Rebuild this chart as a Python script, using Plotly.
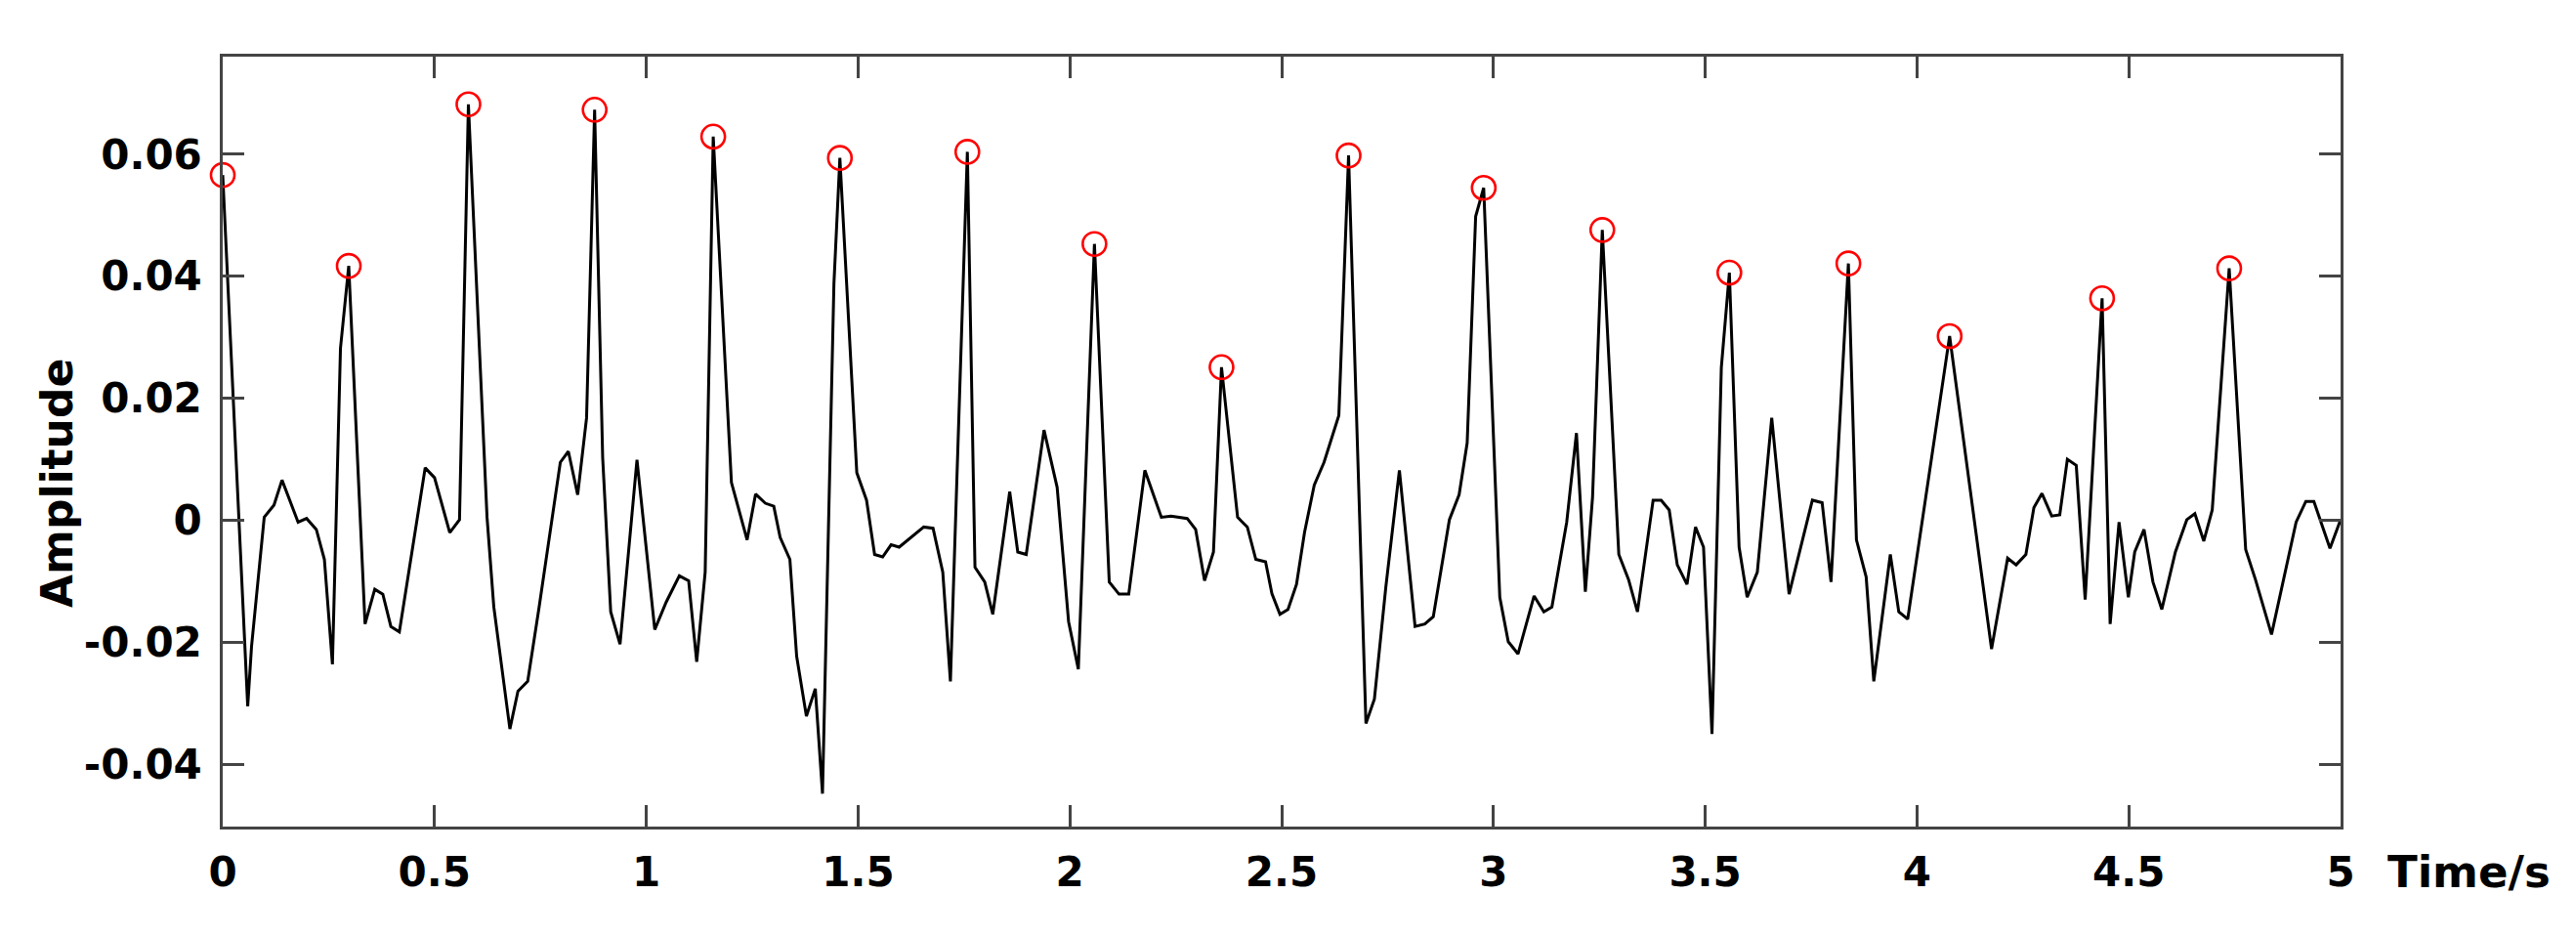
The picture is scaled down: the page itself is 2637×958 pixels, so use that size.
import plotly.graph_objects as go

time_s = [0.000, 0.059, 0.068, 0.098, 0.121, 0.140, 0.178, 0.198, 0.221, 0.240, 0.259, 0.278, 0.2975,
          0.336, 0.359, 0.378, 0.397, 0.417, 0.478, 0.500, 0.536, 0.559, 0.580,
          0.624, 0.640, 0.678, 0.697, 0.720, 0.747, 0.770, 0.797, 0.816, 0.838, 0.859, 0.878,
          0.897, 0.916, 0.938, 0.978, 1.020, 1.047, 1.078, 1.100, 1.119, 1.139, 1.158,
          1.201, 1.238, 1.258, 1.281, 1.301, 1.316, 1.339, 1.355, 1.378, 1.399, 1.416, 1.443, 1.457,
          1.497, 1.520, 1.539, 1.558, 1.578, 1.597, 1.655, 1.677, 1.700, 1.718, 1.758,
          1.776, 1.799, 1.818, 1.858, 1.877, 1.897, 1.939, 1.970, 1.997, 2.020, 2.058,
          2.093, 2.116, 2.139, 2.177, 2.216, 2.239, 2.277, 2.297, 2.318, 2.339, 2.358,
          2.396, 2.419, 2.439, 2.462, 2.477, 2.496, 2.515, 2.535, 2.554, 2.577, 2.600, 2.635, 2.658,
          2.699, 2.719, 2.746, 2.778, 2.815, 2.838, 2.858, 2.896, 2.919, 2.938, 2.958, 2.977,
          3.015, 3.035, 3.058, 3.096, 3.119, 3.138, 3.173, 3.196, 3.217, 3.234, 3.257,
          3.296, 3.319, 3.340, 3.377, 3.396, 3.415, 3.434, 3.457, 3.477, 3.496, 3.516, 3.538, 3.557,
          3.580, 3.599, 3.623, 3.657, 3.698, 3.753, 3.776, 3.797, 3.838,
          3.857, 3.880, 3.898, 3.937, 3.957, 3.978, 4.077,
          4.176, 4.214, 4.234, 4.257, 4.276, 4.295, 4.318, 4.337, 4.355, 4.376, 4.397, 4.437,
          4.456, 4.477, 4.499, 4.514, 4.536, 4.557, 4.578, 4.610, 4.637, 4.656, 4.677, 4.697, 4.737,
          4.776, 4.799, 4.837, 4.895, 4.918, 4.937, 4.975, 5.000]

amplitude = [0.0566, -0.0305, -0.0207, 0.0005, 0.0025, 0.0066, -0.0003, 0.0003, -0.0015, -0.0064, -0.0236, 0.0282, 0.0417,
             -0.0170, -0.0113, -0.0121, -0.0174, -0.0183, 0.0086, 0.0070, -0.0020, 0.0001, 0.0682,
             0.0005, -0.0142, -0.0342, -0.0280, -0.0264, -0.0142, -0.0036, 0.0095, 0.0113, 0.0042, 0.0168, 0.0673,
             0.0103, -0.0150, -0.0203, 0.0099, -0.0179, -0.0134, -0.0091, -0.0099, -0.0232, -0.0085, 0.0629,
             0.0062, -0.0032, 0.0043, 0.0028, 0.0023, -0.0028, -0.0064, -0.0223, -0.0321, -0.0276, -0.0448, 0.0388, 0.0594,
             0.0078, 0.0033, -0.0056, -0.0060, -0.0040, -0.0044, -0.0011, -0.0013, -0.0085, -0.0264, 0.0604,
             -0.0077, -0.0101, -0.0154, 0.0047, -0.0052, -0.0056, 0.0148, 0.0054, -0.0166, -0.0244, 0.0453,
             -0.0101, -0.0121, -0.0121, 0.0082, 0.0005, 0.0007, 0.0003, -0.0015, -0.0099, -0.0052, 0.0251,
             0.0005, -0.0011, -0.0064, -0.0068, -0.0120, -0.0154, -0.0146, -0.0105, -0.0020, 0.0058, 0.0095, 0.0172, 0.0598,
             -0.0333, -0.0293, -0.0109, 0.0082, -0.0174, -0.0170, -0.0158, 0.0001, 0.0042, 0.0127, 0.0498, 0.0545,
             -0.0126, -0.0199, -0.0219, -0.0124, -0.0150, -0.0142, -0.0003, 0.0143, -0.0117, 0.0038, 0.0476,
             -0.0056, -0.0097, -0.0150, 0.0033, 0.0033, 0.0017, -0.0073, -0.0105, -0.0011, -0.0044, -0.0350, 0.0250, 0.0406,
             -0.0044, -0.0126, -0.0085, 0.0168, -0.0121, 0.0033, 0.0029, -0.0101, 0.0421,
             -0.0032, -0.0093, -0.0264, -0.0056, -0.0150, -0.0162, 0.0302,
             -0.0211, -0.0062, -0.0073, -0.0056, 0.0021, 0.0044, 0.0007, 0.0009, 0.0100, 0.0090, -0.0130, 0.0364,
             -0.0170, -0.0003, -0.0126, -0.0052, -0.0015, -0.0101, -0.0146, -0.0052, 0.0001, 0.0011, -0.0034, 0.0017, 0.0413,
             -0.0048, -0.0097, -0.0187, -0.0003, 0.0031, 0.0031, -0.0046, 0.0001]

peak_t = [0.000, 0.2975, 0.580, 0.878, 1.158, 1.457, 1.758, 2.058, 2.358, 2.658,
          2.977, 3.257, 3.557, 3.838, 4.077, 4.437, 4.737]
peak_v = [0.0566, 0.0417, 0.0682, 0.0673, 0.0629, 0.0594, 0.0604, 0.0453, 0.0251, 0.0598,
          0.0545, 0.0476, 0.0406, 0.0421, 0.0302, 0.0364, 0.0413]

x_tickvals = [0, 0.5, 1, 1.5, 2, 2.5, 3, 3.5, 4, 4.5, 5]
x_ticktext = ["0", "0.5", "1", "1.5", "2", "2.5", "3", "3.5", "4", "4.5", "5"]
y_tickvals = [-0.04, -0.02, 0, 0.02, 0.04, 0.06]
y_ticktext = ["-0.04", "-0.02", "0", "0.02", "0.04", "0.06"]

FONT = "DejaVu Sans"
fig = go.Figure()
fig.add_trace(go.Scatter(x=time_s, y=amplitude, mode="lines",
                         line=dict(color="black", width=3), showlegend=False))
fig.add_trace(go.Scatter(x=peak_t, y=peak_v, mode="markers",
                         marker=dict(symbol="circle-open", size=24, color="red",
                                     line=dict(color="red", width=2.6)),
                         showlegend=False, cliponaxis=False))

axis_common = dict(showline=True, mirror="ticks", linecolor="#444444", linewidth=2.5,
                   ticks="inside", ticklen=22, tickwidth=2.5, tickcolor="#444444",
                   showgrid=False, zeroline=False,
                   tickfont=dict(family=FONT, size=42, color="black", weight="bold"))

fig.update_xaxes(range=[0, 5], tickvals=x_tickvals, ticktext=x_ticktext,
                 ticklabelstandoff=8, **axis_common)
fig.update_yaxes(range=[-0.0502, 0.076], tickvals=y_tickvals, ticktext=y_ticktext,
                 ticklabelstandoff=10, **axis_common)

# y-axis label (placed like the original, slightly below the plot centre)
fig.add_annotation(text="<b>Amplitude</b>", xref="paper", yref="paper", x=0, y=0.5,
                   xanchor="center", yanchor="middle", textangle=-90,
                   xshift=-170, yshift=-43, showarrow=False,
                   font=dict(family=FONT, size=44, color="black"))
# x-axis label to the right of the last tick label
fig.add_annotation(text="<b>Time/s</b>", xref="paper", yref="paper", x=1.0, y=0,
                   xanchor="left", yanchor="middle", xshift=46, yshift=-46, showarrow=False,
                   font=dict(family=FONT, size=45, color="black"))

# page body has an 8px margin: shift margins so the plot box lands where the original's does
fig.update_layout(width=2637, height=958, plot_bgcolor="white", paper_bgcolor="white",
                  margin=dict(l=220, r=249, t=50, b=120))

fig.write_html("out.html")
